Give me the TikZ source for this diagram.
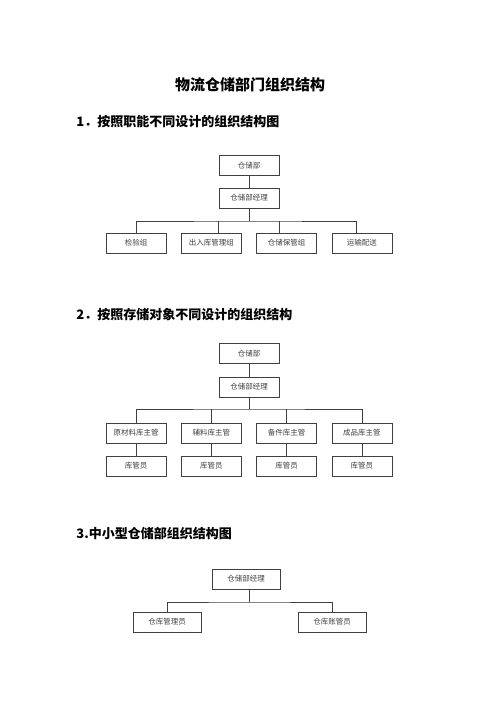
\documentclass[tikz,border=0pt]{standalone}
\usepackage{fontspec}
\newfontfamily\cjk{Noto Sans CJK SC}
\usetikzlibrary{positioning}

\begin{document}
\begin{tikzpicture}[
                        x=1pt,
                        y=-1pt,
                        node distance=75.3pt,
                        line width=0.8pt
                    ]
                    \tikzstyle{box}=[draw=black!75,minimum width=60pt,minimum height=20pt,inner sep=0pt,text=black!75,font=\cjk\fontsize{7.5}{8}\selectfont]
                    \tikzstyle{wide}=[box,minimum width=68pt]
                    \tikzstyle{head}=[anchor=west,inner sep=0pt,text=black,font=\cjk\bfseries\fontsize{13}{15}\selectfont]
                    \tikzstyle{link}=[draw=black!75]

                    \useasboundingbox (0,0) rectangle (500,707);

                    \node[inner sep=0pt,font=\cjk\bfseries\fontsize{15}{17}\selectfont] (T) at (250,85) {物流仓储部门组织结构};

                    % 1
                    \node[head] (H1) at (76,122) {1．按照职能不同设计的组织结构图};
                    \node[box] (A1) at (249,165.5) {仓储部};
                    \node[box] (B1) at (249,198)   {仓储部经理};
                    \node[box] (C1) at (136,243)   {检验组};
                    \node[box] (C2) [right of=C1]  {出入库管理组};
                    \node[box] (C3) [right of=C2]  {仓储保管组};
                    \node[box] (C4) [right of=C3]  {运输配送};
                    \coordinate (bus1) at (249,221);

                    \draw[link] (A1) -- (B1);
                    \draw[link] (B1) -- (bus1);
                    \draw[link] (C1) |- (bus1) -- ([xshift=-6pt]C4.north |- bus1) -- ([xshift=-6pt]C4.north);
                    \draw[link] (C2.north -| B1.west) -- (bus1 -| B1.west);
                    \draw[link] (C3.north -| B1.east) -- (bus1 -| B1.east);

                    % 2
                    \node[head] (H2) at (76,315) {2．按照存储对象不同设计的组织结构};
                    \node[box] (A2) at (249,353.5) {仓储部};
                    \node[box] (B2) at (249,387)   {仓储部经理};
                    \node[box] (D1) at (136,433)   {原材料库主管};
                    \node[box] (D2) [right of=D1]  {辅料库主管};
                    \node[box] (D3) [right of=D2]  {备件库主管};
                    \node[box] (D4) [right of=D3]  {成品库主管};
                    \coordinate (bus2) at (249,409);

                    \foreach \i in {1,...,4}
                        \node[box] (E\i) [node distance=33pt,below of=D\i] {库管员};

                    \draw[link] (A2) -- (B2) -- (bus2);
                    \draw[link] (D1) |- (bus2) -| (D4);
                    \foreach \i in {1,...,4}
                        \draw[link] (D\i) -- (E\i);
                    \draw[link] (D2) -- (D2 |- bus2);
                    \draw[link] (D3) -- (D3 |- bus2);

                    % 3
                    \node[head] (H3) at (76,533) {3.中小型仓储部组织结构图};
                    \node[wide] (B3) at (246,579) {仓储部经理};
                    \node[wide] (F1) at (167,622) {仓库管理员};
                    \node[wide] (F2) at (332,622) {仓库账管员};
                    \coordinate (bus3) at (249,602);

                    \draw[link] ([xshift=3pt]B3.south) -- (bus3);
                    \draw[link] (F1) |- (bus3) -| (F2);
                \end{tikzpicture}
\end{document}
